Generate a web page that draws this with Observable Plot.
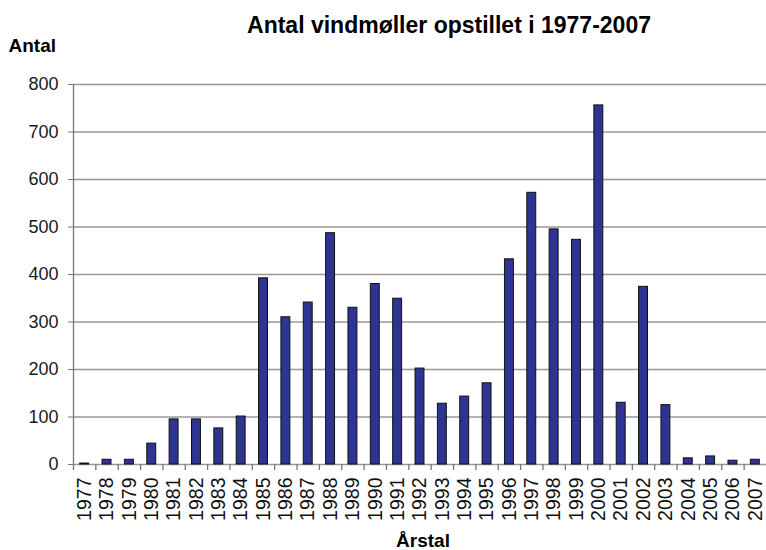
<!DOCTYPE html>
<html>
<head>
<meta charset="utf-8">
<script src="https://cdn.jsdelivr.net/npm/d3@7"></script>
<script src="https://cdn.jsdelivr.net/npm/@observablehq/plot@0.6"></script>
<style>
  html, body { margin: 0; padding: 0; background: #ffffff; }
  #chart { width: 766px; height: 550px; }
</style>
</head>
<body>
<div id="chart"></div>
<script>
const titleText = "Antal vindmøller opstillet i 1977-2007";
const yLabelText = "Antal";
const xLabelText = "Årstal";

const years = [1977, 1978, 1979, 1980, 1981, 1982, 1983, 1984, 1985, 1986,
  1987, 1988, 1989, 1990, 1991, 1992, 1993, 1994, 1995, 1996,
  1997, 1998, 1999, 2000, 2001, 2002, 2003, 2004, 2005, 2006, 2007];
const counts = [2, 10, 10, 44, 95, 95, 76, 101, 392, 310,
  341, 487, 330, 380, 349, 202, 128, 143, 171, 432,
  572, 495, 473, 756, 130, 374, 125, 13, 17, 8, 10];
const yTicks = [0, 100, 200, 300, 400, 500, 600, 700, 800];

const data = years.map((year, i) => ({year, count: counts[i]}));

const W = 766, H = 550;
const mL = 73, mR = 0, mT = 84, mB = 86;
const frameH = H - mT - mB;
const step = (W - mL - mR) / years.length;
const barInset = step * 0.3;
const font = "'Liberation Sans', Arial, Helvetica, sans-serif";

const chart = Plot.plot({
  width: W,
  height: H,
  marginLeft: mL,
  marginRight: mR,
  marginTop: mT,
  marginBottom: mB,
  style: {fontFamily: font, background: "#ffffff", color: "#111"},
  x: {type: "linear", domain: [years[0] - 0.5, years[years.length - 1] + 0.5], label: null},
  y: {domain: [0, 800], label: null},
  marks: [
    Plot.gridY(yTicks, {stroke: "#999999", strokeOpacity: 1, strokeWidth: 1.6}),
    Plot.rectY(data, {x1: d => d.year - 0.5, x2: d => d.year + 0.5, y: "count",
      insetLeft: barInset, insetRight: barInset, fill: "#2e3492", stroke: "#111", strokeWidth: 1}),
    Plot.axisY(yTicks, {tickSize: 5, tickPadding: 10, fontSize: 18, stroke: "#777", strokeOpacity: 1, fill: "#1a1a1a", label: null}),
    Plot.tickX(years, {x: d => d - 0.5, insetTop: frameH, insetBottom: -6, stroke: "#777", strokeOpacity: 1, strokeWidth: 1.3}),
    Plot.tickX([years[0]], {x: d => d - 0.5, stroke: "#777", strokeOpacity: 1, strokeWidth: 1.3}),
    Plot.axisX(years, {tickSize: 0, tickPadding: 13, tickRotate: -90, tickFormat: d => String(d), fontSize: 19.5, fill: "#111", label: null}),
    Plot.text([titleText], {frameAnchor: "top", dx: 29, dy: -68, fontSize: 23, fontWeight: "bold", fill: "#000"}),
    Plot.text([yLabelText], {frameAnchor: "top-left", textAnchor: "start", dx: -65, dy: -46, fontSize: 19, fontWeight: "bold", fill: "#000"}),
    Plot.text([xLabelText], {frameAnchor: "bottom", dx: 3, dy: 82, fontSize: 19, fontWeight: "bold", fill: "#000"})
  ]
});
document.getElementById("chart").append(chart);
</script>
</body>
</html>
